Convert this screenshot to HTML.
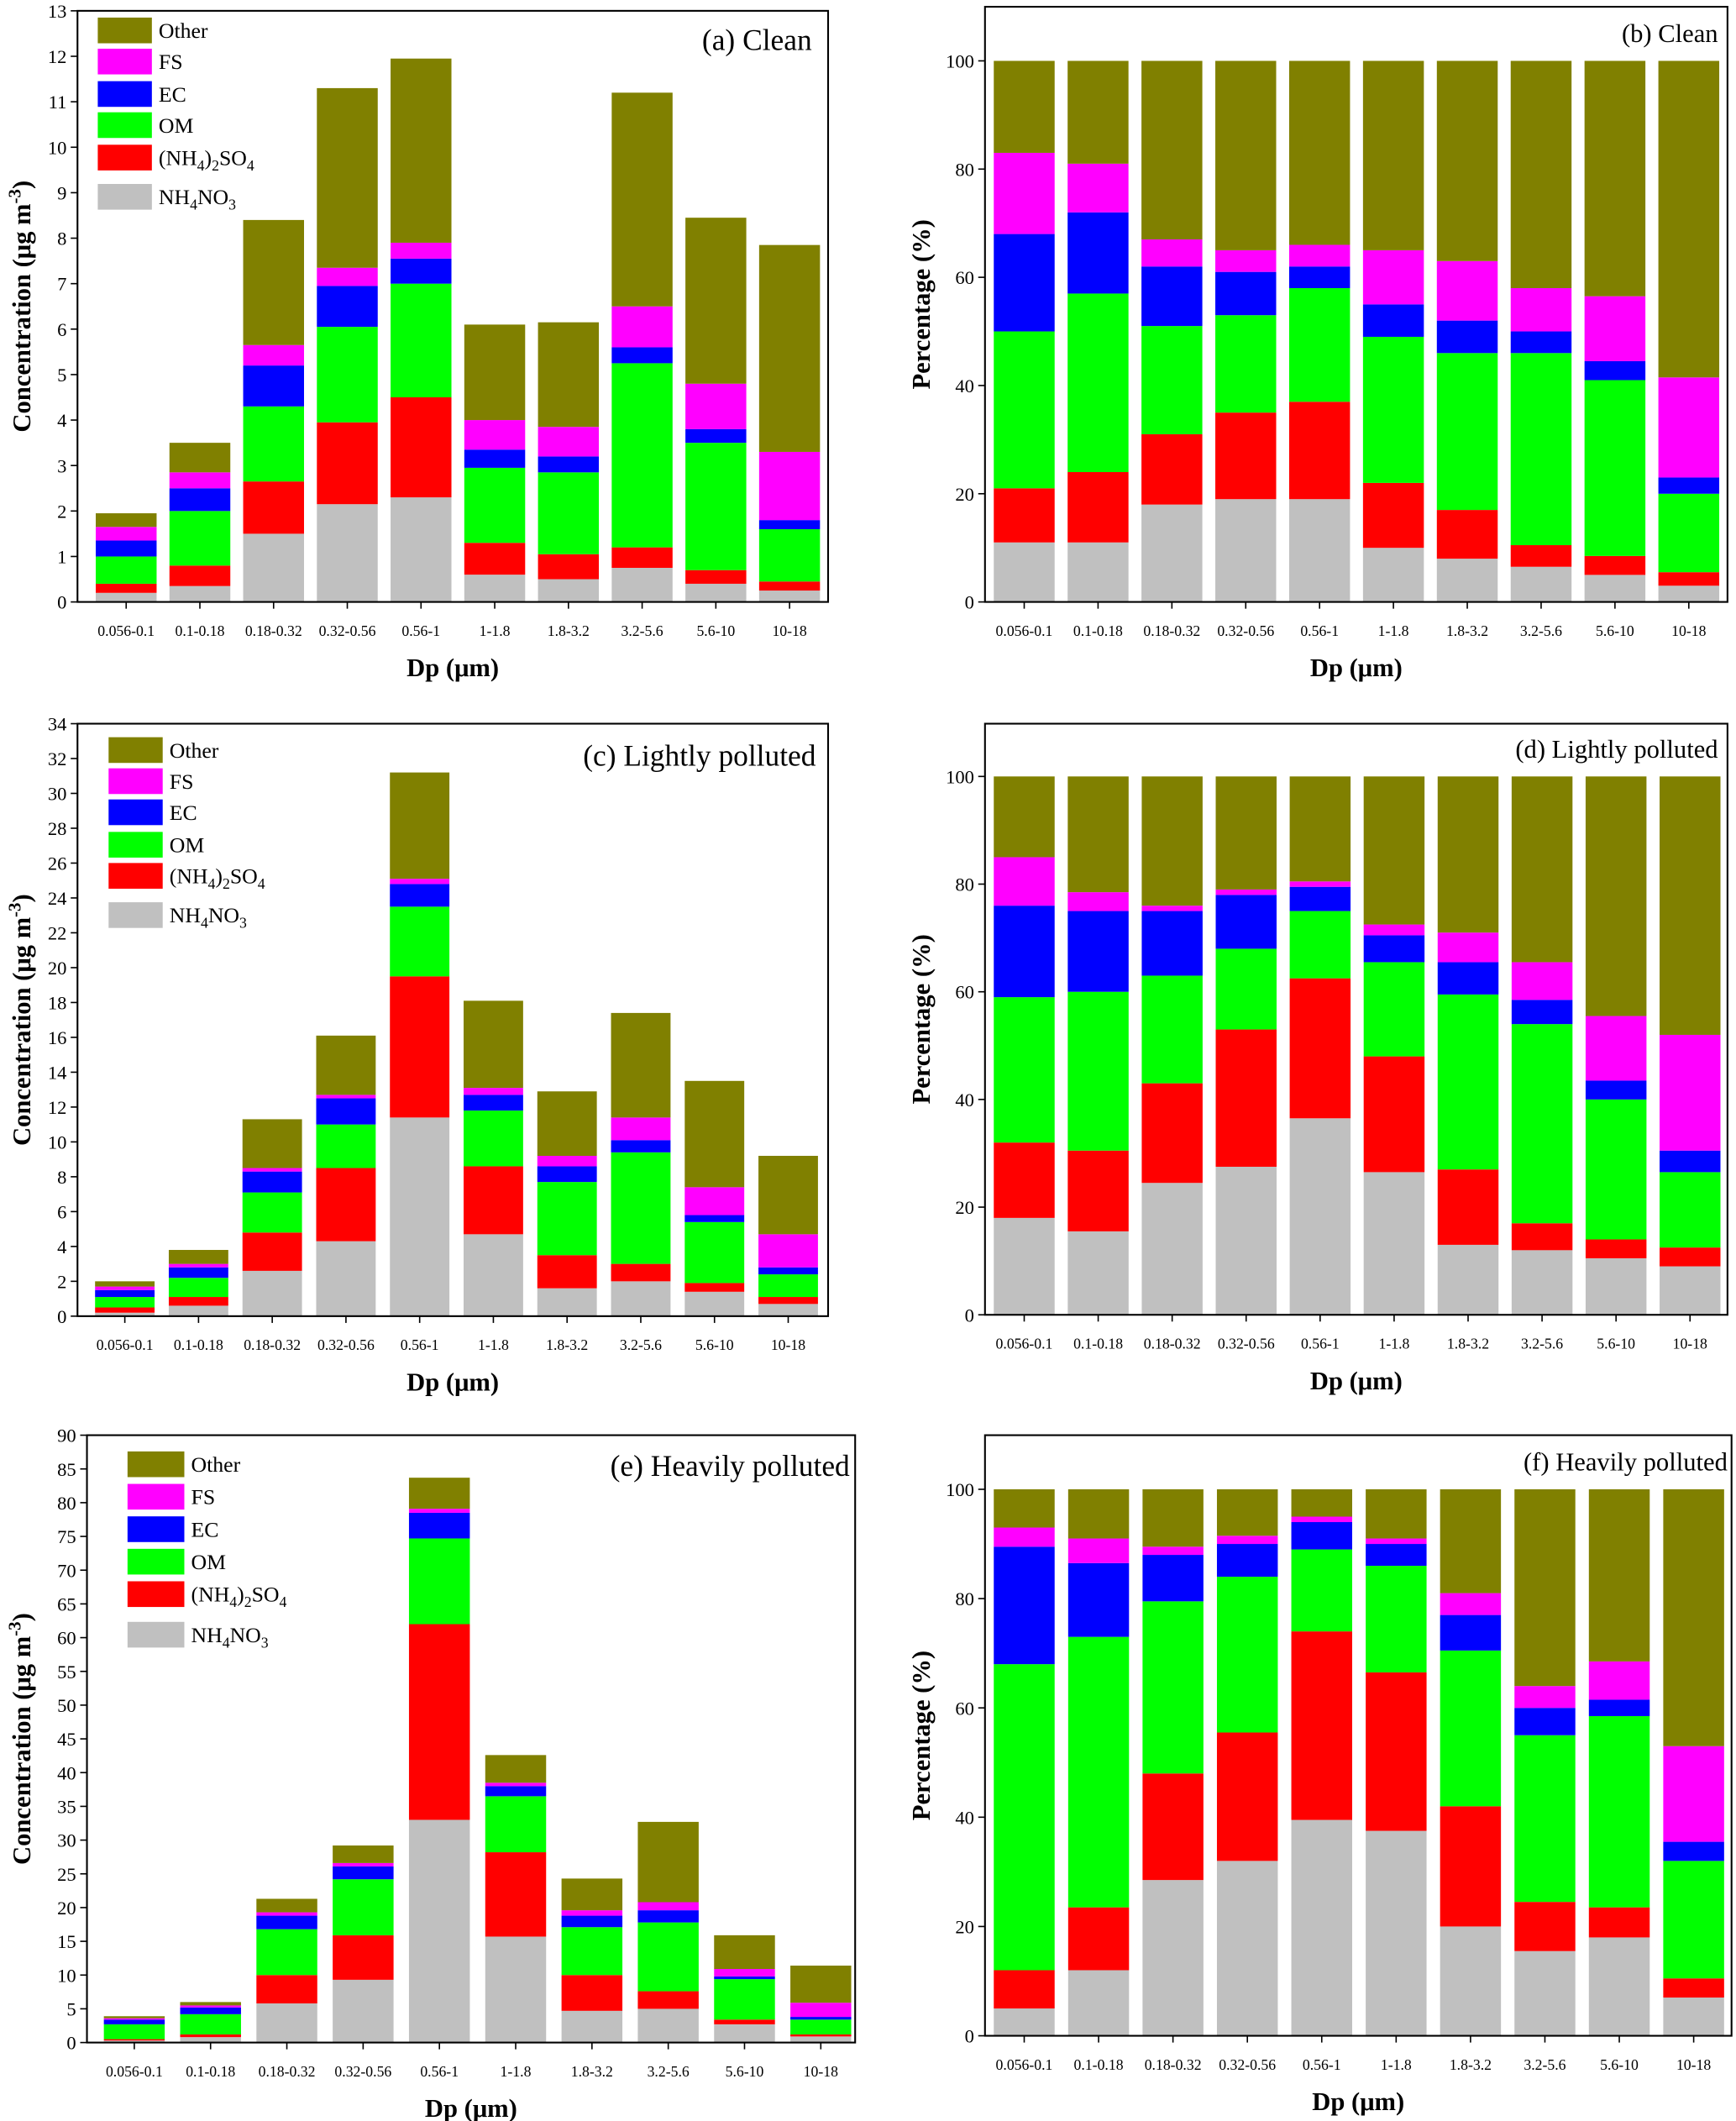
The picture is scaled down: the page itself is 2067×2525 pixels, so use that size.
<!DOCTYPE html>
<html><head><meta charset="utf-8"><style>
html,body{margin:0;padding:0;background:#fff;}
svg{display:block;font-family:"Liberation Serif",serif;}
</style></head><body>
<svg id="fig" width="2067" height="2525" viewBox="0 0 1283 1568" xmlns="http://www.w3.org/2000/svg"></svg>
<script>
const categories=["0.056-0.1","0.1-0.18","0.18-0.32","0.32-0.56","0.56-1","1-1.8","1.8-3.2","3.2-5.6","5.6-10","10-18"];
const seriesNames=["NH4NO3","(NH4)2SO4","OM","EC","FS","Other"];
const colors=["#c0c0c0","#ff0000","#00ff00","#0000ff","#ff00ff","#808000"];
const ticksA=[0,1,2,3,4,5,6,7,8,9,10,11,12,13];
const ticksC=[0,2,4,6,8,10,12,14,16,18,20,22,24,26,28,30,32,34];
const ticksE=[0,5,10,15,20,25,30,35,40,45,50,55,60,65,70,75,80,85,90];
const ticksP=[0,20,40,60,80,100];
// cumulative stack tops per component (NH4NO3, +AS, +OM, +EC, +FS, total)
const aNH4NO3=[0.2,0.35,1.5,2.15,2.3,0.6,0.5,0.75,0.4,0.25];
const aAS=[0.4,0.8,2.65,3.95,4.5,1.3,1.05,1.2,0.7,0.45];
const aOM=[1.0,2.0,4.3,6.05,7.0,2.95,2.85,5.25,3.5,1.6];
const aEC=[1.35,2.5,5.2,6.95,7.55,3.35,3.2,5.6,3.8,1.8];
const aFS=[1.65,2.85,5.65,7.35,7.9,4.0,3.85,6.5,4.8,3.3];
const aOther=[1.95,3.5,8.4,11.3,11.95,6.1,6.15,11.2,8.45,7.85];
const bNH4NO3=[11,11,18,19,19,10,8,6.5,5,3];
const bAS=[21,24,31,35,37,22,17,10.5,8.5,5.5];
const bOM=[50,57,51,53,58,49,46,46,41,20];
const bEC=[68,72,62,61,62,55,52,50,44.5,23];
const bFS=[83,81,67,65,66,65,63,58,56.5,41.5];
const bOther=[100,100,100,100,100,100,100,100,100,100];
const cNH4NO3=[0.2,0.6,2.6,4.3,11.4,4.7,1.6,2.0,1.4,0.7];
const cAS=[0.5,1.1,4.8,8.5,19.5,8.6,3.5,3.0,1.9,1.1];
const cOM=[1.1,2.2,7.1,11.0,23.5,11.8,7.7,9.4,5.4,2.4];
const cEC=[1.5,2.8,8.3,12.5,24.8,12.7,8.6,10.1,5.8,2.8];
const cFS=[1.7,3.0,8.5,12.7,25.1,13.1,9.2,11.4,7.4,4.7];
const cOther=[2.0,3.8,11.3,16.1,31.2,18.1,12.9,17.4,13.5,9.2];
const dNH4NO3=[18,15.5,24.5,27.5,36.5,26.5,13,12,10.5,9];
const dAS=[32,30.5,43,53,62.5,48,27,17,14,12.5];
const dOM=[59,60,63,68,75,65.5,59.5,54,40,26.5];
const dEC=[76,75,75,78,79.5,70.5,65.5,58.5,43.5,30.5];
const dFS=[85,78.5,76,79,80.5,72.5,71,65.5,55.5,52];
const dOther=[100,100,100,100,100,100,100,100,100,100];
const eNH4NO3=[0.3,0.8,5.8,9.3,33.0,15.7,4.7,5.0,2.7,0.9];
const eAS=[0.5,1.2,10.0,15.9,62.0,28.2,10.0,7.6,3.4,1.2];
const eOM=[2.7,4.2,16.8,24.2,74.7,36.5,17.1,17.8,9.4,3.4];
const eEC=[3.4,5.2,18.8,26.1,78.5,38.0,18.8,19.6,9.8,3.8];
const eFS=[3.6,5.5,19.3,26.6,79.1,38.5,19.6,20.8,10.9,5.9];
const eOther=[3.9,6.0,21.3,29.2,83.7,42.6,24.3,32.7,15.9,11.4];
const fNH4NO3=[5,12,28.5,32,39.5,37.5,20,15.5,18,7];
const fAS=[12,23.5,48,55.5,74,66.5,42,24.5,23.5,10.5];
const fOM=[68,73,79.5,84,89,86,70.5,55,58.5,32];
const fEC=[89.5,86.5,88,90,94,90,77,60,61.5,35.5];
const fFS=[93,91,89.5,91.5,95,91,81,64,68.5,53];
const fOther=[100,100,100,100,100,100,100,100,100,100];

const NS="http://www.w3.org/2000/svg";
const svg=document.getElementById("fig");
function mk(tag,attrs,parent){const e=document.createElementNS(NS,tag);for(const k in attrs)e.setAttribute(k,attrs[k]);(parent||svg).appendChild(e);return e;}
function txt(s,attrs,parent){const e=mk("text",attrs,parent);e.textContent=s;return e;}

function panel(p){
  const g=mk("g",{});
  
  
  const y=v=>p.y0-(v-0)*(p.y0-p.yTopVal)/p.topVal;
  const x=i=>p.c0+i*p.step;
  const stacks=p.stacks;
  for(let i=0;i<categories.length;i++){
    let prev=0;
    for(let s=0;s<6;s++){
      const top=stacks[s][i];
      const r=mk("rect",{x:x(i)-p.bw/2,y:y(top),width:p.bw,height:Math.max(0,y(prev)-y(top)),fill:colors[s]},g);
      
      
      prev=top;
    }
  }
  const frame=mk("rect",{x:p.x0,y:p.yTop,width:p.x1-p.x0,height:p.y0-p.yTop,fill:"none",stroke:"#000","stroke-width":1.3},g);
  
  
  for(const t of p.ticks){
    mk("line",{x1:p.x0-5,x2:p.x0,y1:y(t),y2:y(t),stroke:"#000","stroke-width":1},g);
    const tl=txt(String(t),{x:p.x0-8,y:y(t)+5,"text-anchor":"end","font-size":14},g);
    
    
  }
  for(let i=0;i<categories.length;i++){
    mk("line",{x1:x(i),x2:x(i),y1:p.y0,y2:p.y0+5,stroke:"#000","stroke-width":1},g);
    const tl=txt(categories[i],{x:x(i),y:p.y0+25,"text-anchor":"middle","font-size":11},g);
    
    
  }
  const xt=txt("Dp (μm)",{x:(p.x0+p.x1)/2,y:p.y0+55,"text-anchor":"middle","font-size":19,"font-weight":"bold"},g);
  
  
  const cy=(p.yTop+p.y0)/2;
  const yt=mk("text",{x:p.ytx,y:cy,"text-anchor":"middle","font-size":19,"font-weight":"bold",transform:`rotate(-90 ${p.ytx} ${cy})`},g);
  
  
  if(p.pct){yt.textContent="Percentage (%)";}
  else{yt.innerHTML='Concentration (μg m<tspan dy="-7" font-size="13">-3</tspan><tspan dy="7">)</tspan>';}
  const ti=txt(p.title,{x:p.tx,y:p.ty,"text-anchor":"end","font-size":p.tfs},g);
  
  
  if(p.leg){
    const L=p.leg;
    const labels=[["Other",5],["FS",4],["EC",3],["OM",2],["AS",1],["AN",0]];
    for(let k=0;k<6;k++){
      const ry=L.rows[k];
      const sw=mk("rect",{x:L.x,y:ry-9,width:L.w,height:19,fill:colors[labels[k][1]]},g);
      
      
      const t=mk("text",{x:L.x+L.w+5,y:ry+6,"font-size":16},g);
      
      
      const l=labels[k][0];
      if(l==="AS")t.innerHTML='(NH<tspan dy="4" font-size="11">4</tspan><tspan dy="-4">)</tspan><tspan dy="4" font-size="11">2</tspan><tspan dy="-4">SO</tspan><tspan dy="4" font-size="11">4</tspan>';
      else if(l==="AN")t.innerHTML='NH<tspan dy="4" font-size="11">4</tspan><tspan dy="-4">NO</tspan><tspan dy="4" font-size="11">3</tspan>';
      else t.textContent=l;
    }
  }
}
panel({name:"panel-a-clean",x0:57,x1:612,yTop:8,y0:445,yTopVal:8,topVal:13,c0:93,step:54.5,bw:45,ticks:ticksA,ytx:22,
  stacks:[aNH4NO3,aAS,aOM,aEC,aFS,aOther],title:"(a) Clean",tx:600,ty:37,tfs:22,leg:{x:72,w:40,rows:[22,45,69,92,116,145]}});
panel({name:"panel-b-clean-pct",pct:true,x0:728,x1:1277,yTop:5,y0:445,yTopVal:45,topVal:100,c0:757,step:54.6,bw:45,ticks:ticksP,ytx:687,
  stacks:[bNH4NO3,bAS,bOM,bEC,bFS,bOther],title:"(b) Clean",tx:1270,ty:31,tfs:19});
panel({name:"panel-c-lightly",x0:57,x1:612,yTop:535,y0:973,yTopVal:535,topVal:34,c0:92,step:54.5,bw:44,ticks:ticksC,ytx:22,
  stacks:[cNH4NO3,cAS,cOM,cEC,cFS,cOther],title:"(c) Lightly polluted",tx:603,ty:566,tfs:22,leg:{x:80,w:40,rows:[554,577,600,624,647,676]}});
panel({name:"panel-d-lightly-pct",pct:true,x0:728,x1:1277,yTop:535,y0:972,yTopVal:574,topVal:100,c0:757,step:54.7,bw:45,ticks:ticksP,ytx:687,
  stacks:[dNH4NO3,dAS,dOM,dEC,dFS,dOther],title:"(d) Lightly polluted",tx:1270,ty:560,tfs:19});
panel({name:"panel-e-heavily",x0:64,x1:632,yTop:1061,y0:1510,yTopVal:1061,topVal:90,c0:99,step:56.4,bw:45,ticks:ticksE,ytx:22,
  stacks:[eNH4NO3,eAS,eOM,eEC,eFS,eOther],title:"(e) Heavily polluted",tx:628,ty:1091,tfs:22,leg:{x:94,w:42,rows:[1082,1106,1130,1154,1178,1208]}});
panel({name:"panel-f-heavily-pct",pct:true,x0:728,x1:1280,yTop:1061,y0:1505,yTopVal:1101,topVal:100,c0:757,step:55,bw:45,ticks:ticksP,ytx:687,
  stacks:[fNH4NO3,fAS,fOM,fEC,fFS,fOther],title:"(f) Heavily polluted",tx:1277,ty:1087,tfs:19});
</script>
</body></html>
